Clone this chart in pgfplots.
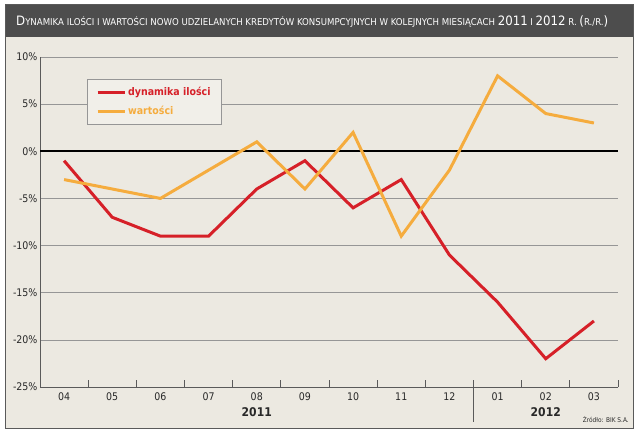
\documentclass[border=0pt]{standalone}
\usepackage{pgfplots}
\pgfplotsset{compat=1.18}
\usepackage{graphicx}
\usepackage{fontspec}
\setmainfont{DejaVu Sans Condensed}
\definecolor{bg}{RGB}{236,233,225}
\definecolor{legbg}{RGB}{241,239,233}
\definecolor{titlebar}{RGB}{77,77,77}
\definecolor{myred}{RGB}{214,32,40}
\definecolor{myorange}{RGB}{245,172,62}
\definecolor{gridc}{RGB}{150,150,150}
\definecolor{axc}{RGB}{90,90,90}
\definecolor{txt}{RGB}{40,40,40}
\pgfplotstableread{
x red orange
0 -1 -3
1 -7 -4
2 -9 -5
3 -9 -2
4 -4 1
5 -1 -4
6 -6 2
7 -3 -9
8 -11 -2
9 -16 8
10 -22 4
11 -18 3
}\datatable
\begin{document}
\begin{tikzpicture}
\useasboundingbox (0pt,0pt) rectangle (640pt,432pt);
\fill[white] (0pt,0pt) rectangle (640pt,432pt);
\fill[bg] (5pt,4pt) rectangle (633pt,428pt);
\fill[titlebar] (5pt,395pt) rectangle (633pt,428pt);
\draw[axc, line width=0.8pt] (5pt,4pt) rectangle (633pt,428pt);
\node[white, anchor=west, inner sep=0pt] at (16pt,410pt) {\resizebox{592pt}{9.8pt}{%
{\fontsize{13}{13}\selectfont D}{\fontsize{9.5}{10}\selectfont YNAMIKA ILOŚCI I WARTOŚCI NOWO UDZIELANYCH KREDYTÓW KONSUMPCYJNYCH W KOLEJNYCH MIESIĄCACH }{\fontsize{13}{13}\selectfont 2011}{\fontsize{9.5}{10}\selectfont{} I }{\fontsize{13}{13}\selectfont 2012}{\fontsize{9.5}{10}\selectfont{} R. }{\fontsize{13}{13}\selectfont (}{\fontsize{9.5}{10}\selectfont R./R.}{\fontsize{13}{13}\selectfont )}}};
\begin{axis}[
  at={(40pt,45pt)}, anchor=south west,
  scale only axis, width=578pt, height=330pt,
  xmin=-0.5, xmax=11.5, ymin=-25, ymax=10,
  axis x line*=bottom, axis y line*=left,
  axis line style={axc, line width=0.9pt},
  xtick={0,...,11},
  xticklabels={04,05,06,07,08,09,10,11,12,01,02,03},
  major x tick style={draw=none},
  minor xtick={0.5,1.5,...,11.5},
  minor x tick style={axc, line width=0.9pt},
  minor tick length=7pt,
  tick align=inside,
  xtick pos=bottom,
  ytick={-25,-20,...,10},
  yticklabels={-25\%,-20\%,-15\%,-10\%,-5\%,0\%,5\%,10\%},
  ytick style={draw=none},
  ymajorgrids,
  grid style={gridc, line width=0.7pt},
  tick label style={txt, font=\fontsize{10.5}{10.5}\selectfont},
  xticklabel style={yshift=-2pt},
  yticklabel style={xshift=1pt},
  clip=false,
  legend style={at={(0.081,0.933)}, anchor=north west, fill=legbg, draw=gridc, line width=0.6pt,
    font=\bfseries\fontsize{10.5}{11}\selectfont, row sep=5pt, inner xsep=9pt, inner ysep=6pt},
  legend cell align=left,
  legend image code/.code={\draw[#1, line width=3pt] (0pt,0pt) -- (27pt,0pt);},
]
\draw[black, line width=2.2pt] (axis cs:-0.5,0) -- (axis cs:11.5,0);
\addplot[myred, line width=3pt] table[x=x, y=red] {\datatable};
\addlegendentry{\textcolor{myred}{dynamika ilości}\hspace{7pt}}
\addplot[myorange, line width=3pt] table[x=x, y=orange] {\datatable};
\addlegendentry{\textcolor{myorange}{wartości}}
\draw[axc, line width=0.9pt] (axis cs:8.5,-25) -- ++(0pt,-35pt);
\node[txt, font=\bfseries\fontsize{12}{12}\selectfont] at ([yshift=-25pt]axis cs:4,-25) {2011};
\node[txt, font=\bfseries\fontsize{12}{12}\selectfont] at ([yshift=-25pt]axis cs:10,-25) {2012};
\end{axis}
\node[txt, anchor=east, font=\fontsize{6.5}{6.5}\selectfont, inner sep=0pt] at (629pt,12pt) {Źródło: BIK S.A.};
\end{tikzpicture}
\end{document}
